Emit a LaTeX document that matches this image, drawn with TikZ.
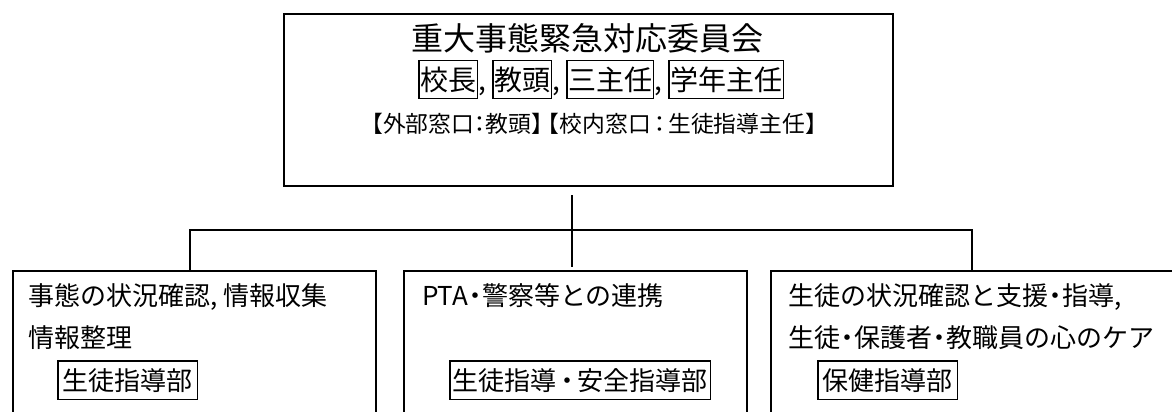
\documentclass[tikz,border=0pt]{standalone}
\usepackage{fontspec}
\setmainfont{Noto Sans CJK JP}
\usetikzlibrary{calc}
\setlength\fboxrule{1.5pt}
\setlength\fboxsep{0pt}
\newcommand\wbt[1]{\fbox{\hspace{0.5pt}\rule[-0.27em]{0pt}{1.29em}#1\hspace{0.5pt}}}
\newcommand\wbb[2][4pt]{\fbox{\hspace{#1}\rule[-0.33em]{0pt}{1.42em}#2\hspace{#1}}}
\newcommand\nak{\hspace{-0.23em}・\hspace{-0.23em}}
\newcommand\mnak{\hspace{-0.1em}・\hspace{-0.1em}}
\newcommand\ncolon{\hspace{-0.25em}：\hspace{-0.25em}}
\newcommand\mcolon{\hspace{-0.12em}：\hspace{-0.12em}}
\newcommand\brk{\hspace{-0.75em}}
\begin{document}
\begin{tikzpicture}[x=1pt,y=-1pt,
  frame/.style={draw, line width=2pt, inner sep=0pt, anchor=north west},
  conn/.style={line width=1.6pt},
  txt/.style={inner sep=0pt, anchor=base west},
  bt/.style={txt, font=\fontsize{26}{31}\selectfont}]
\useasboundingbox (0,0) rectangle (1172,412);
\node[frame, minimum width=609pt, minimum height=172pt] (top) at (283,13) {};
\begin{scope}
\clip (0,0) rectangle (1172,412);
\node[frame, minimum width=363pt, minimum height=200pt] (b1) at (12,270) {};
\node[frame, minimum width=343pt, minimum height=200pt] (b2) at (403,270) {};
\node[frame, minimum width=420pt, minimum height=200pt] (b3) at (770,270) {};
\end{scope}
\coordinate (hub) at (572,230);
\coordinate (L) at (190,230);
\coordinate (R) at (972,230);
\draw[conn, shorten <=8pt, shorten >=3pt] (top.south -| hub) -- (b2.north -| hub);
\draw[conn] (b1.north -| L) -- (L) -- (R) -- (b3.north -| R);
\node[txt, font=\fontsize{32}{38}\selectfont, anchor=base] (title) at (587,51) {重大事態緊急対応委員会};
\node[txt, font=\fontsize{28}{34}\selectfont] (members) at (418,90) {\wbt{校長}, \wbt{教頭}, \wbt{三主任}, \wbt{学年主任}};
\node[txt, font=\fontsize{22.8}{27}\selectfont] (contact) at (360,132) {【外部窓口\ncolon 教頭】\brk【校内窓口\mcolon 生徒指導主任】};
\node[bt] (t11) at (28,305) {事態の状況確認, 情報収集};
\node[bt] (t12) at (28,347) {情報整理};
\node[bt] (t13) at (57,390) {\wbb{生徒指導部}};
\node[bt] (t21) at (422,305) {PTA\nak 警察等との連携};
\node[bt] (t23) at (449,390) {\wbb[2pt]{生徒指導\mnak 安全指導部}};
\node[bt] (t31) at (788,305) {生徒の状況確認と支援\nak 指導,};
\node[bt] (t32) at (788,347) {生徒\nak 保護者\nak 教職員の心のケア};
\node[bt] (t33) at (817,390) {\wbb{保健指導部}};
\end{tikzpicture}
\end{document}
